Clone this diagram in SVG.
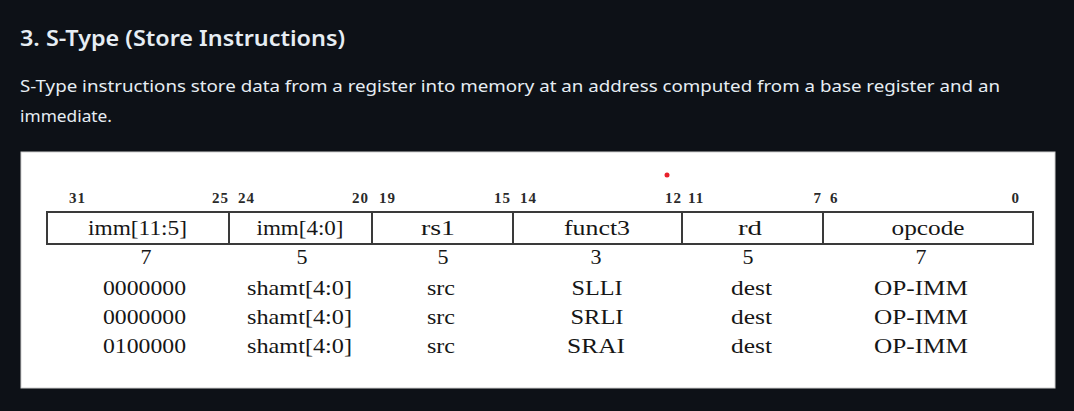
<svg xmlns="http://www.w3.org/2000/svg" width="1074" height="411" viewBox="0 0 1074 411">
<style>
.h{font-family:"Noto Sans","Open Sans",sans-serif;font-weight:600;font-size:22px;fill:#e6edf3}
.p{font-family:"Noto Sans","Open Sans",sans-serif;font-size:16.5px;fill:#e6edf3}
.b{font-family:"Liberation Serif",serif;font-weight:bold;font-size:15px;fill:#2a2a2a;letter-spacing:1px}
.t{font-family:"Liberation Serif",serif;font-size:22px;fill:#161616;text-anchor:middle}
.ln{stroke:#3a3a3a;stroke-width:2;fill:none}
</style>
<rect width="1074" height="411" fill="#0d1117"/>
<text class="h" x="20" y="46" textLength="325" lengthAdjust="spacingAndGlyphs">3. S-Type (Store Instructions)</text>
<text class="p" x="20" y="92" textLength="980" lengthAdjust="spacingAndGlyphs">S-Type instructions store data from a register into memory at an address computed from a base register and an</text>
<text class="p" x="20" y="122" textLength="92" lengthAdjust="spacingAndGlyphs">immediate.</text>
<rect x="21" y="152" width="1034" height="236" fill="#ffffff" stroke="#cfcfcf" stroke-width="1"/>
<circle cx="667" cy="175" r="2.5" fill="#e8202a"/>
<g id="bits">
<text class="b" x="69" y="203">31</text>
<text class="b" x="229" y="203" text-anchor="end">25</text>
<text class="b" x="238" y="203">24</text>
<text class="b" x="369" y="203" text-anchor="end">20</text>
<text class="b" x="379" y="203">19</text>
<text class="b" x="511" y="203" text-anchor="end">15</text>
<text class="b" x="520" y="203">14</text>
<text class="b" x="682" y="203" text-anchor="end">12</text>
<text class="b" x="688" y="203">11</text>
<text class="b" x="822" y="203" text-anchor="end">7</text>
<text class="b" x="830" y="203">6</text>
<text class="b" x="1020" y="203" text-anchor="end">0</text>
</g>
<g id="frame">
<rect class="ln" x="47" y="212" width="986" height="32"/>
<line class="ln" x1="229" y1="212" x2="229" y2="244"/>
<line class="ln" x1="372" y1="212" x2="372" y2="244"/>
<line class="ln" x1="513" y1="212" x2="513" y2="244"/>
<line class="ln" x1="682" y1="212" x2="682" y2="244"/>
<line class="ln" x1="823" y1="212" x2="823" y2="244"/>
</g>
<g id="connectors"></g>
<g id="field-imm-11-5">
<text class="t" x="137.5" y="235" textLength="99" lengthAdjust="spacingAndGlyphs">imm[11:5]</text>
<text class="t" x="146" y="264">7</text>
<text class="t" x="144.5" y="295" textLength="83" lengthAdjust="spacingAndGlyphs">0000000</text>
<text class="t" x="144.5" y="324" textLength="83" lengthAdjust="spacingAndGlyphs">0000000</text>
<text class="t" x="144.5" y="353" textLength="83" lengthAdjust="spacingAndGlyphs">0100000</text>
</g>
<g id="field-imm-4-0">
<text class="t" x="300" y="235" textLength="87" lengthAdjust="spacingAndGlyphs">imm[4:0]</text>
<text class="t" x="302" y="264">5</text>
<text class="t" x="299.5" y="295" textLength="105" lengthAdjust="spacingAndGlyphs">shamt[4:0]</text>
<text class="t" x="299.5" y="324" textLength="105" lengthAdjust="spacingAndGlyphs">shamt[4:0]</text>
<text class="t" x="299.5" y="353" textLength="105" lengthAdjust="spacingAndGlyphs">shamt[4:0]</text>
</g>
<g id="field-rs1">
<text class="t" x="438" y="235" textLength="34" lengthAdjust="spacingAndGlyphs">rs1</text>
<text class="t" x="443" y="264">5</text>
<text class="t" x="441" y="295" textLength="28" lengthAdjust="spacingAndGlyphs">src</text>
<text class="t" x="441" y="324" textLength="28" lengthAdjust="spacingAndGlyphs">src</text>
<text class="t" x="441" y="353" textLength="28" lengthAdjust="spacingAndGlyphs">src</text>
</g>
<g id="field-funct3">
<text class="t" x="597" y="235" textLength="66" lengthAdjust="spacingAndGlyphs">funct3</text>
<text class="t" x="596" y="264">3</text>
<text class="t" x="597" y="295" textLength="51" lengthAdjust="spacingAndGlyphs">SLLI</text>
<text class="t" x="597" y="324" textLength="53" lengthAdjust="spacingAndGlyphs">SRLI</text>
<text class="t" x="596" y="353" textLength="58" lengthAdjust="spacingAndGlyphs">SRAI</text>
</g>
<g id="field-rd">
<text class="t" x="750" y="235" textLength="24" lengthAdjust="spacingAndGlyphs">rd</text>
<text class="t" x="748" y="264">5</text>
<text class="t" x="751.5" y="295" textLength="41" lengthAdjust="spacingAndGlyphs">dest</text>
<text class="t" x="751.5" y="324" textLength="41" lengthAdjust="spacingAndGlyphs">dest</text>
<text class="t" x="751.5" y="353" textLength="41" lengthAdjust="spacingAndGlyphs">dest</text>
</g>
<g id="field-opcode">
<text class="t" x="928" y="235" textLength="73" lengthAdjust="spacingAndGlyphs">opcode</text>
<text class="t" x="921" y="264">7</text>
<text class="t" x="921" y="295" textLength="94" lengthAdjust="spacingAndGlyphs">OP-IMM</text>
<text class="t" x="921" y="324" textLength="94" lengthAdjust="spacingAndGlyphs">OP-IMM</text>
<text class="t" x="921" y="353" textLength="94" lengthAdjust="spacingAndGlyphs">OP-IMM</text>
</g>
</svg>
